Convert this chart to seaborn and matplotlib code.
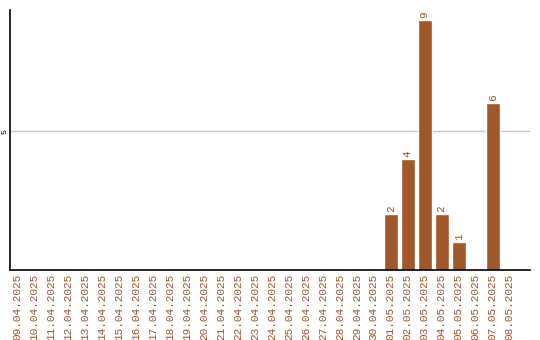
import matplotlib
matplotlib.use("Agg")
import matplotlib.pyplot as plt
import seaborn as sns
import pandas as pd

dates = ["09.04.2025", "10.04.2025", "11.04.2025", "12.04.2025", "13.04.2025",
         "14.04.2025", "15.04.2025", "16.04.2025", "17.04.2025", "18.04.2025",
         "19.04.2025", "20.04.2025", "21.04.2025", "22.04.2025", "23.04.2025",
         "24.04.2025", "25.04.2025", "26.04.2025", "27.04.2025", "28.04.2025",
         "29.04.2025", "30.04.2025", "01.05.2025", "02.05.2025", "03.05.2025",
         "04.05.2025", "05.05.2025", "06.05.2025", "07.05.2025", "08.05.2025"]
values = [0, 0, 0, 0, 0, 0, 0, 0, 0, 0,
          0, 0, 0, 0, 0, 0, 0, 0, 0, 0,
          0, 0, 2, 4, 9, 2, 1, 0, 6, 0]

sns.set_style("white")
plt.rcParams['font.family'] = ['Liberation Mono', 'DejaVu Sans Mono']

df = pd.DataFrame({"date": dates, "value": values})
bar_color = "#a0572a"
text_color = "#a0522d"

fig = plt.figure(figsize=(5.4, 3.4), dpi=100)
ax = fig.add_axes([0.0185, 0.206, 0.9625, 0.764])
sns.barplot(data=df, x="date", y="value", color=bar_color, width=0.82,
            saturation=1, ax=ax)

for i, v in enumerate(values):
    if v > 0:
        ax.text(i, v + 0.08, str(v), rotation=90, ha="center", va="bottom",
                fontsize=8, color=text_color)

ax.set_ylim(0, 9.35)
ax.set_xlim(-0.41, 30.18)
ax.set_yticks([5])
ax.set_yticklabels(["5"], rotation=90, va="center", fontsize=6, color="black")
ax.axhline(5, color="#c8c8c8", lw=1, zorder=0)
ax.set_xticks(range(len(dates)))
ax.set_xticklabels(dates, rotation=90, fontsize=8, color=text_color)
ax.tick_params(axis="x", length=0, pad=3)
ax.tick_params(axis="y", length=0, pad=1)
ax.set_xlabel("")
ax.set_ylabel("")
for s in ["top", "right"]:
    ax.spines[s].set_visible(False)
for s in ["left", "bottom"]:
    ax.spines[s].set_color("black")
    ax.spines[s].set_linewidth(1.2)

fig.savefig("out.png", dpi=100)
